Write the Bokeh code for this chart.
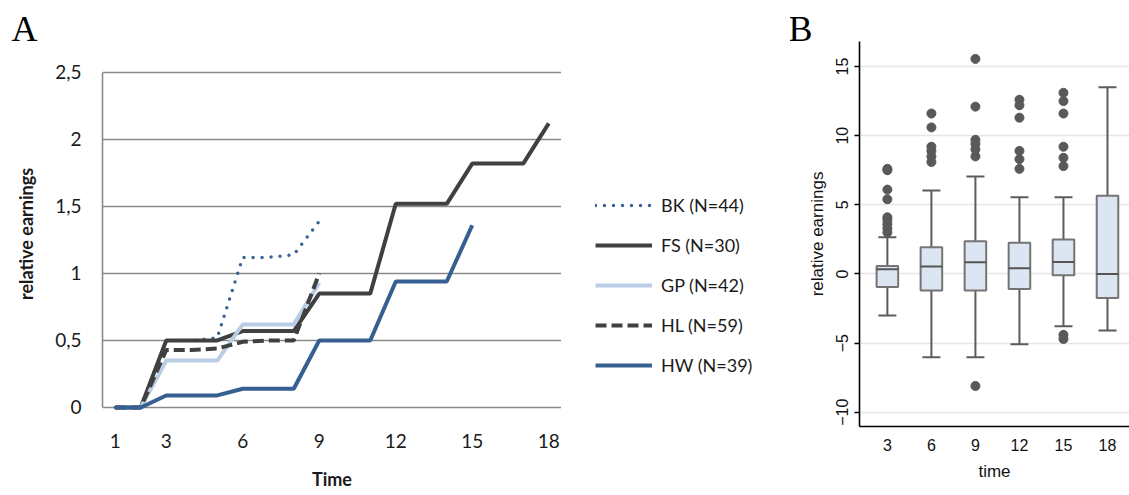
from bokeh.plotting import figure
from bokeh.models import Range1d, FixedTicker, Legend, Title, CustomJSTickFormatter
from bokeh.layouts import row
from bokeh.embed import file_html
from bokeh.resources import INLINE

# ---------------- Panel A data ----------------
TIME = list(range(1, 19))
BK = [0, 0, 0.5, 0.5, 0.52, 1.12, 1.12, 1.14, 1.39]
FS = [0, 0, 0.5, 0.5, 0.5, 0.57, 0.57, 0.57, 0.85, 0.85, 0.85, 1.52, 1.52, 1.52, 1.82, 1.82, 1.82, 2.12]
GP = [0, 0, 0.35, 0.35, 0.35, 0.62, 0.62, 0.62, 0.93]
HL = [0, 0, 0.43, 0.43, 0.44, 0.49, 0.5, 0.5, 1.0]
HW = [0, 0, 0.09, 0.09, 0.09, 0.14, 0.14, 0.14, 0.5, 0.5, 0.5, 0.94, 0.94, 0.94, 1.36]
SERIES_LABELS = ["BK (N=44)", "FS (N=30)", "GP (N=42)", "HL (N=59)", "HW (N=39)"]
A_XTICKS = [1, 3, 6, 9, 12, 15, 18]
A_YTICKS = [0, 0.5, 1, 1.5, 2, 2.5]

# ---------------- Panel B data ----------------
B_TIME = [3, 6, 9, 12, 15, 18]
Q1 = [-0.94, -1.2, -1.2, -1.08, -0.09, -1.73]
MED = [0.34, 0.54, 0.85, 0.41, 0.87, 0.0]
Q3 = [0.58, 1.93, 2.37, 2.25, 2.49, 5.65]
LOW_W = [-3.01, -6.02, -6.02, -5.08, -3.78, -4.09]
UP_W = [2.66, 6.03, 7.04, 5.55, 5.55, 13.5]
OUT_3 = [7.6, 7.5, 6.1, 5.4, 4.1, 3.9, 3.6, 3.3, 3.0]
OUT_6 = [11.6, 10.6, 9.2, 8.9, 8.5, 8.1]
OUT_9 = [15.55, 12.1, 9.7, 9.4, 9.0, 8.5, -8.1]
OUT_12 = [12.6, 12.2, 11.3, 8.9, 8.3, 7.6]
OUT_15 = [13.1, 12.5, 11.6, 9.2, 8.4, 7.8, -4.4, -4.7]
OUT_18 = []
B_YTICKS = [-10, -5, 0, 5, 10, 15]

STYLES = [
    dict(line_color="#3a6396", line_width=3.5, line_dash="0 9", line_cap="round"),
    dict(line_color="#404040", line_width=4),
    dict(line_color="#b9cde5", line_width=4),
    dict(line_color="#404040", line_width=4, line_dash="11 5"),
    dict(line_color="#376092", line_width=4),
]
SERIES = [BK, FS, GP, HL, HW]


def letter_title(text, offset):
    t = Title(text=text, align="left", offset=offset, text_font="Liberation Serif",
              text_font_size="36px", text_font_style="normal", text_color="black")
    try:
        t.standoff = -14
    except Exception:
        t.standoff = 0
    return t


# ================= Panel A =================
pA = figure(width=561, height=495, x_range=Range1d(0.5, 18.5), y_range=Range1d(-0.1418, 2.7313),
            output_backend="svg", toolbar_location=None,
            min_border_left=102, min_border_right=0, min_border_top=41, min_border_bottom=69)
pA.outline_line_color = None
pA.xgrid.visible = False
pA.ygrid.ticker = FixedTicker(ticks=A_YTICKS)
pA.ygrid.grid_line_color = "#8a8a8a"
pA.ygrid.grid_line_width = 1.6

grey_axis = "#8a8a8a"
pA.yaxis.ticker = FixedTicker(ticks=A_YTICKS)
pA.yaxis.bounds = (min(A_YTICKS), max(A_YTICKS))
pA.yaxis.formatter = CustomJSTickFormatter(code="return tick.toString().replace('.', ',');")
pA.yaxis.axis_line_color = grey_axis
pA.yaxis.axis_line_width = 1.6
pA.yaxis.major_tick_line_color = None
pA.yaxis.minor_tick_line_color = None
pA.yaxis.major_tick_out = 0
pA.yaxis.major_tick_in = 0
pA.yaxis.major_label_standoff = 21
pA.yaxis.major_label_text_font = "Lato"
pA.yaxis.major_label_text_font_size = "19px"
pA.yaxis.major_label_text_color = "#1a1a1a"
pA.yaxis.axis_label = "relative earnings"
pA.yaxis.axis_label_text_font = "Lato"
pA.yaxis.axis_label_text_font_style = "bold"
pA.yaxis.axis_label_text_font_size = "18px"
pA.yaxis.axis_label_text_color = "#1a1a1a"
pA.yaxis.axis_label_standoff = 15

pA.xaxis.ticker = FixedTicker(ticks=A_XTICKS)
pA.xaxis.axis_line_color = None
pA.xaxis.major_tick_line_color = None
pA.xaxis.minor_tick_line_color = None
pA.xaxis.major_tick_out = 0
pA.xaxis.major_tick_in = 0
pA.xaxis.major_label_standoff = 7
pA.xaxis.major_label_text_font = "Lato"
pA.xaxis.major_label_text_font_size = "19px"
pA.xaxis.major_label_text_color = "#1a1a1a"
pA.xaxis.axis_label = "Time"
pA.xaxis.axis_label_text_font = "Lato"
pA.xaxis.axis_label_text_font_style = "bold"
pA.xaxis.axis_label_text_font_size = "18px"
pA.xaxis.axis_label_text_color = "#1a1a1a"
pA.xaxis.axis_label_standoff = 17

for vals, st in zip(SERIES, STYLES):
    pA.line(TIME[:len(vals)], vals, **st)

pA.add_layout(letter_title("A", -91), "above")

# ================= Legend panel (keys for panel A) =================
# Same series drawn in a range where they are out of view; only their legend keys show.
pL = figure(width=229, height=495, x_range=Range1d(-2, -1), y_range=Range1d(-2, -1),
            output_backend="svg", toolbar_location=None,
            min_border_left=0, min_border_right=0, min_border_top=41, min_border_bottom=69)
pL.outline_line_color = None
pL.axis.visible = False
pL.grid.visible = False
keys = [pL.line(TIME[:len(vals)], vals, **st) for vals, st in zip(SERIES, STYLES)]
legend = Legend(items=[(lab, [r]) for lab, r in zip(SERIES_LABELS, keys)],
                location=(34, 50), glyph_width=57, glyph_height=22, label_height=22, spacing=18,
                label_standoff=9, padding=0, margin=0, border_line_color=None,
                background_fill_alpha=0, label_text_font="Lato", label_text_font_size="18px",
                label_text_color="#1a1a1a")
pL.add_layout(legend)

# ================= Panel B =================
pB = figure(width=339, height=495, x_range=Range1d(1.1, 19.5), y_range=Range1d(-11.03, 16.81),
            output_backend="svg", toolbar_location=None,
            min_border_left=69, min_border_right=0, min_border_top=41, min_border_bottom=69)
pB.outline_line_color = None
pB.xgrid.visible = False
pB.ygrid.ticker = FixedTicker(ticks=B_YTICKS)
pB.ygrid.grid_line_color = "#e6e6e6"
pB.ygrid.grid_line_width = 1.6

pB.yaxis.ticker = FixedTicker(ticks=B_YTICKS)
pB.yaxis.axis_line_color = "black"
pB.yaxis.axis_line_width = 1.6
pB.yaxis.major_tick_line_color = "black"
pB.yaxis.major_tick_line_width = 1.5
pB.yaxis.major_tick_out = 5
pB.yaxis.major_tick_in = 0
pB.yaxis.minor_tick_line_color = None
pB.yaxis.major_label_orientation = "vertical"
pB.yaxis.major_label_standoff = 6
pB.yaxis.major_label_text_font = "Liberation Sans"
pB.yaxis.major_label_text_font_size = "16px"
pB.yaxis.major_label_text_color = "#111111"
pB.yaxis.axis_label = "relative earnings"
pB.yaxis.axis_label_text_font = "Liberation Sans"
pB.yaxis.axis_label_text_font_style = "normal"
pB.yaxis.axis_label_text_font_size = "17px"
pB.yaxis.axis_label_text_color = "#111111"
pB.yaxis.axis_label_standoff = 7

pB.xaxis.ticker = FixedTicker(ticks=B_TIME)
pB.xaxis.axis_line_color = "black"
pB.xaxis.axis_line_width = 1.6
pB.xaxis.major_tick_line_color = None
pB.xaxis.minor_tick_line_color = None
pB.xaxis.major_tick_out = 0
pB.xaxis.major_tick_in = 0
pB.xaxis.major_label_standoff = 12
pB.xaxis.major_label_text_font = "Liberation Sans"
pB.xaxis.major_label_text_font_size = "16px"
pB.xaxis.major_label_text_color = "#111111"
pB.xaxis.axis_label = "time"
pB.xaxis.axis_label_text_font = "Liberation Sans"
pB.xaxis.axis_label_text_font_style = "normal"
pB.xaxis.axis_label_text_font_size = "17px"
pB.xaxis.axis_label_text_color = "#111111"
pB.xaxis.axis_label_standoff = 8

whisk = "#5c5c5c"
pB.segment(x0=B_TIME, y0=Q3, x1=B_TIME, y1=UP_W, line_color=whisk, line_width=2)
pB.segment(x0=B_TIME, y0=Q1, x1=B_TIME, y1=LOW_W, line_color=whisk, line_width=2)
pB.scatter(B_TIME, UP_W, marker="dash", size=18, line_color=whisk, line_width=2)
pB.scatter(B_TIME, LOW_W, marker="dash", size=18, line_color=whisk, line_width=2)
pB.vbar(x=B_TIME, top=Q3, bottom=Q1, width=1.47, fill_color="#dce6f2", line_color="#747474", line_width=2)
pB.scatter(B_TIME, MED, marker="dash", size=22, line_color="#555555", line_width=2)

out_t, out_v = [], []
for t, vals in zip(B_TIME, [OUT_3, OUT_6, OUT_9, OUT_12, OUT_15, OUT_18]):
    out_t += [t] * len(vals)
    out_v += vals
pB.scatter(out_t, out_v, marker="circle", size=9, fill_color="#595959", line_color="#595959")

pB.add_layout(letter_title("B", -71), "above")

layout = row(pA, pL, pB)
open("out.html", "w").write(file_html(layout, INLINE))
